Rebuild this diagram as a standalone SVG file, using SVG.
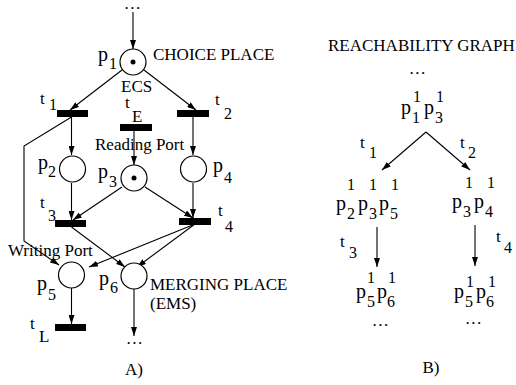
<svg xmlns="http://www.w3.org/2000/svg" width="516" height="385" viewBox="0 0 516 385">
<style>
text{font-family:"Liberation Serif","Times New Roman",serif;font-size:17px;fill:#000}
.p{font-size:20px}
.d{font-size:16px}
.c{text-anchor:middle}
.dots{letter-spacing:1.5px}
.pl{fill:#fff;stroke:#000;stroke-width:1.2}
.tok{fill:#000}
.tr{fill:#000}
.ln{fill:none;stroke:#000;stroke-width:1.1;marker-end:url(#ah)}
</style>
<defs>
<marker id="ah" markerUnits="userSpaceOnUse" markerWidth="9" markerHeight="6" refX="9" refY="3" orient="auto">
<path d="M0,0 L9,3 L0,6 z" fill="#000"/>
</marker>
</defs>
<rect width="516" height="385" fill="#fff"/>

<g id="connectors">
<line class="ln" x1="133" y1="12" x2="133" y2="49"/>
<line class="ln" x1="122" y1="70" x2="70" y2="110"/>
<line class="ln" x1="144" y1="70" x2="196" y2="110"/>
<line class="ln" x1="71.5" y1="117" x2="71.5" y2="155"/>
<line class="ln" x1="134" y1="131" x2="134" y2="165"/>
<line class="ln" x1="193" y1="117" x2="193" y2="155"/>
<line class="ln" x1="71.5" y1="183" x2="71.5" y2="220"/>
<line class="ln" x1="122" y1="187" x2="73" y2="220"/>
<line class="ln" x1="145" y1="187" x2="193" y2="218"/>
<line class="ln" x1="193" y1="183" x2="193" y2="218"/>
<polyline class="ln" points="71.5,117 24,146 24,241 59,265"/>
<line class="ln" x1="71.5" y1="227" x2="125" y2="267"/>
<line class="ln" x1="195" y1="224" x2="89" y2="267"/>
<line class="ln" x1="195" y1="224" x2="137" y2="267"/>
<line class="ln" x1="71.5" y1="288" x2="71.5" y2="324"/>
<line class="ln" x1="134" y1="289" x2="134" y2="336"/>
<line class="ln" x1="426" y1="132" x2="382" y2="170"/>
<line class="ln" x1="426" y1="132" x2="470" y2="170"/>
<line class="ln" x1="377" y1="227" x2="377" y2="267"/>
<line class="ln" x1="475" y1="225" x2="475" y2="266"/>
</g>

<g id="top-dots"><text class="c dots" x="133" y="9">...</text></g>

<g id="p1">
<circle class="pl" cx="133" cy="62" r="13"/>
<circle class="tok" cx="133" cy="62" r="2.5"/>
<text class="p" x="98" y="61">p</text><text class="d" x="109" y="69">1</text>
<text x="153" y="60">CHOICE PLACE</text>
<text x="121" y="92">ECS</text>
</g>

<g id="t1">
<rect class="tr" x="57" y="110" width="31" height="7"/>
<text x="40" y="104">t</text><text class="d" x="49" y="110">1</text>
</g>
<g id="tE">
<rect class="tr" x="120" y="124" width="32" height="7"/>
<text x="125" y="108">t</text><text x="132" y="122">E</text>
<text x="95" y="150">Reading Port</text>
</g>
<g id="t2">
<rect class="tr" x="177" y="110" width="32" height="7"/>
<text x="215" y="105">t</text><text class="d" x="224" y="119">2</text>
</g>

<g id="p2">
<circle class="pl" cx="72.5" cy="169" r="13"/>
<text class="p" x="38" y="169">p</text><text class="d" x="48" y="177">2</text>
</g>
<g id="p3">
<circle class="pl" cx="134" cy="178" r="13"/>
<circle class="tok" cx="134" cy="178" r="2.5"/>
<text class="p" x="98" y="178">p</text><text class="d" x="109" y="187">3</text>
</g>
<g id="p4">
<circle class="pl" cx="193.5" cy="169" r="13"/>
<text class="p" x="213" y="172">p</text><text class="d" x="224" y="183">4</text>
</g>

<g id="t3">
<rect class="tr" x="55" y="220" width="31" height="7"/>
<text x="40" y="208">t</text><text class="d" x="48" y="221">3</text>
</g>
<g id="t4">
<rect class="tr" x="179" y="218" width="32" height="7"/>
<text x="218" y="216">t</text><text class="d" x="225" y="232">4</text>
</g>

<g id="p5">
<circle class="pl" cx="71.5" cy="275" r="13"/>
<text x="8" y="256">Writing Port</text>
<text class="p" x="37" y="290">p</text><text class="d" x="48" y="300">5</text>
</g>
<g id="p6">
<circle class="pl" cx="134" cy="276" r="13"/>
<text class="p" x="99" y="285">p</text><text class="d" x="110" y="293">6</text>
<text x="150" y="290">MERGING PLACE</text>
<text x="150" y="309">(EMS)</text>
</g>

<g id="tL">
<rect class="tr" x="55" y="324" width="31" height="7"/>
<text x="30" y="329">t</text><text x="39" y="342">L</text>
</g>
<g id="bottom-dots"><text class="c dots" x="135" y="344">...</text></g>
<text class="c" x="134" y="375">A)</text>

<g id="rg-title"><text x="328" y="51">REACHABILITY GRAPH</text></g>
<g id="rg-dots"><text class="c dots" x="418" y="74">...</text></g>

<g id="m0">
<text class="p" x="401" y="114">p</text><text class="d" x="412" y="123">1</text><text class="d" x="413" y="102">1</text>
<text class="p" x="424" y="114">p</text><text class="d" x="435" y="123">3</text><text class="d" x="436" y="102">1</text>
</g>
<g id="lt1"><text x="360" y="148">t</text><text class="d" x="369" y="158">1</text></g>
<g id="lt2"><text x="460" y="148">t</text><text class="d" x="468" y="158">2</text></g>

<g id="m1">
<text class="p" x="336" y="210">p</text><text class="d" x="347" y="219">2</text><text class="d" x="347" y="190">1</text>
<text class="p" x="358" y="210">p</text><text class="d" x="369" y="219">3</text><text class="d" x="369" y="190">1</text>
<text class="p" x="379" y="210">p</text><text class="d" x="390" y="219">5</text><text class="d" x="391" y="190">1</text>
</g>
<g id="m2">
<text class="p" x="452" y="208">p</text><text class="d" x="463" y="217">3</text><text class="d" x="465" y="188">1</text>
<text class="p" x="474" y="208">p</text><text class="d" x="485" y="217">4</text><text class="d" x="487" y="188">1</text>
</g>
<g id="lt3"><text x="340" y="247">t</text><text class="d" x="349" y="258">3</text></g>
<g id="lt4"><text x="496" y="242">t</text><text class="d" x="504" y="253">4</text></g>

<g id="m3">
<text class="p" x="356" y="298">p</text><text class="d" x="367" y="307">5</text><text class="d" x="367" y="283">1</text>
<text class="p" x="377" y="298">p</text><text class="d" x="387" y="307">6</text><text class="d" x="388" y="283">1</text>
<text class="c dots" x="381" y="326">...</text>
</g>
<g id="m4">
<text class="p" x="454" y="298">p</text><text class="d" x="465" y="307">5</text><text class="d" x="466" y="287">1</text>
<text class="p" x="476" y="298">p</text><text class="d" x="486" y="307">6</text><text class="d" x="488" y="287">1</text>
<text class="c dots" x="474" y="324">...</text>
</g>
<text class="c" x="431" y="373">B)</text>
</svg>
